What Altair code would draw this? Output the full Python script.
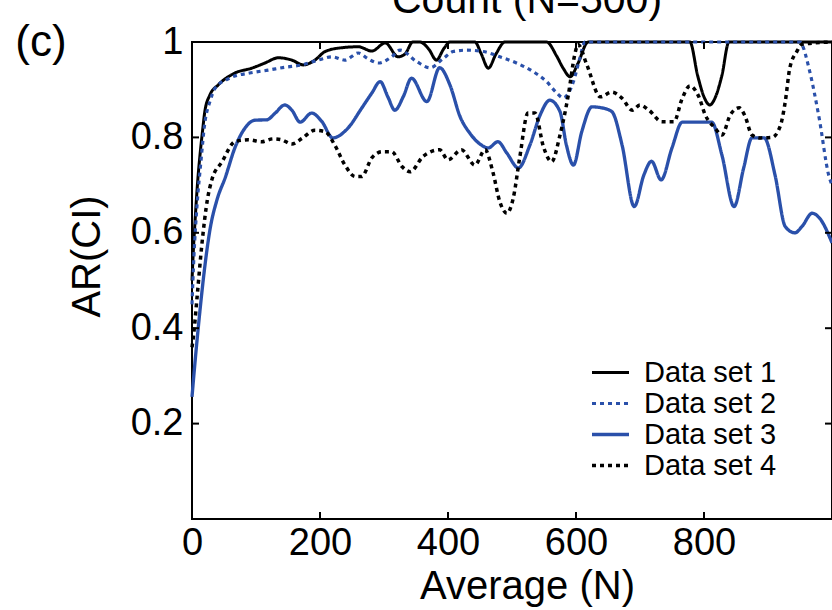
import altair as alt
import pandas as pd

# ---- data ----
series_names = ["Data set 1", "Data set 2", "Data set 3", "Data set 4"]

ds1_x = [0, 2, 5, 9, 13, 17, 20, 28, 41, 67, 93, 114, 135, 156, 174, 192, 208, 234, 260, 281, 302, 322,
         333, 345, 356, 370, 382, 393, 403, 442, 452, 463, 475, 489, 554, 570, 580, 591, 603, 619,
         778, 790, 800, 809, 818, 828, 839, 1000]
ds1_y = [0.50, 0.56, 0.63, 0.71, 0.77, 0.82, 0.854, 0.889, 0.91, 0.935, 0.945, 0.956, 0.967, 0.962, 0.952,
         0.962, 0.98, 0.988, 0.99, 0.981, 0.998, 0.969, 0.975, 1.0, 1.0, 0.985, 0.962, 0.985, 1.0, 1.0,
         0.975, 0.945, 0.975, 1.0, 1.0, 0.97, 0.945, 0.927, 0.955, 1.0, 1.0, 0.93, 0.885, 0.868, 0.885,
         0.93, 1.0, 1.0]

ds2_x = [0, 3, 8, 14, 20, 28, 36, 60, 90, 119, 145, 172, 197, 219, 239, 260, 275, 291, 312, 325, 351,
         372, 393, 408, 429, 455, 481, 507, 533, 554, 570, 580, 596, 606, 614, 950, 953, 964, 980, 995, 1000]
ds2_y = [0.45, 0.55, 0.66, 0.75, 0.83, 0.875, 0.903, 0.925, 0.935, 0.941, 0.947, 0.952, 0.962, 0.969,
         0.962, 0.977, 0.965, 0.956, 0.969, 0.983, 0.959, 0.946, 0.966, 0.98, 0.983, 0.98, 0.969, 0.956,
         0.938, 0.917, 0.893, 0.883, 0.917, 0.966, 1.0, 1.0, 0.995, 0.945, 0.84, 0.72, 0.70]

ds3_x = [0, 5, 12, 20, 28, 39, 52, 67, 83, 98, 117, 130, 145, 156, 169, 187, 203, 220, 244, 265, 281,
         294, 306, 317, 330, 343, 367, 387, 403, 419, 434, 450, 463, 478, 492, 510, 528, 544, 559, 575,
         585, 596, 609, 625, 640, 656, 672, 691, 706, 718, 733, 750, 766, 812, 828, 847, 862, 875, 894,
         911, 927, 942, 953, 969, 981, 1000]
ds3_y = [0.256, 0.333, 0.431, 0.529, 0.606, 0.669, 0.716, 0.778, 0.82, 0.836, 0.837, 0.851, 0.868, 0.857,
         0.832, 0.851, 0.833, 0.799, 0.82, 0.861, 0.893, 0.917, 0.885, 0.857, 0.885, 0.924, 0.875, 0.946,
         0.91, 0.843, 0.809, 0.786, 0.778, 0.791, 0.767, 0.736, 0.784, 0.847, 0.878, 0.854, 0.784, 0.742,
         0.812, 0.864, 0.862, 0.854, 0.784, 0.655, 0.721, 0.75, 0.711, 0.778, 0.832, 0.832, 0.763, 0.655,
         0.736, 0.799, 0.799, 0.721, 0.613, 0.60, 0.613, 0.641, 0.63, 0.579]

ds4_x = [0, 2, 8, 15, 24, 31, 47, 67, 88, 109, 127, 140, 156, 172, 192, 208, 223, 239, 255, 265, 281,
         297, 312, 328, 341, 361, 387, 400, 421, 442, 458, 470, 481, 492, 502, 512, 525, 536, 549, 562,
         575, 588, 598, 603, 617, 638, 656, 672, 688, 700, 714, 734, 753, 766, 778, 792, 802, 817, 828,
         841, 855, 864, 875, 888, 906, 919, 927, 934, 945, 953, 1000]
ds4_y = [0.36, 0.38, 0.466, 0.57, 0.669, 0.711, 0.749, 0.791, 0.795, 0.791, 0.797, 0.795, 0.786, 0.798,
         0.815, 0.812, 0.784, 0.742, 0.718, 0.718, 0.757, 0.77, 0.77, 0.739, 0.728, 0.76, 0.774, 0.753,
         0.774, 0.742, 0.774, 0.728, 0.665, 0.641, 0.673, 0.757, 0.851, 0.851, 0.781, 0.749, 0.805, 0.889,
         0.973, 0.995, 0.952, 0.885, 0.895, 0.882, 0.857, 0.868, 0.857, 0.833, 0.833, 0.882, 0.908, 0.885,
         0.847, 0.82, 0.805, 0.847, 0.862, 0.845, 0.805, 0.799, 0.80, 0.823, 0.875, 0.945, 0.98, 0.995, 1.0]

x_tick_values = [0, 200, 400, 600, 800]
x_tick_marks = [0, 200, 400, 600, 800, 1000]
y_tick_values = [0.2, 0.4, 0.6, 0.8, 1.0]
y_tick_marks = [0, 0.2, 0.4, 0.6, 0.8, 1.0]

title_text = "Count (N=500)"
panel_text = "(c)"
x_title = "Average (N)"
y_title = "AR(CI)"

# ---- build table ----
rows = []
for name, xs, ys in zip(series_names, [ds1_x, ds2_x, ds3_x, ds4_x], [ds1_y, ds2_y, ds3_y, ds4_y]):
    for xv, yv in zip(xs, ys):
        rows.append({"series": name, "N": xv, "AR": yv})
df = pd.DataFrame(rows)

W, H = 640, 477
FONT = "Liberation Sans"
BLUE = "#2a50aa"

xscale = alt.Scale(domain=[0, 1000], nice=False, zero=False)
yscale = alt.Scale(domain=[0, 1], nice=False, zero=False)

lines = alt.Chart(df).mark_line(interpolate="monotone", strokeCap="butt").encode(
    x=alt.X("N:Q", scale=xscale,
            axis=alt.Axis(values=x_tick_values, title=x_title, tickSize=0, domain=False, grid=False,
                          labelFlush=False, labelOverlap=False,
                          labelFontSize=38, labelPadding=5, labelFont=FONT, labelColor="black",
                          titleFont=FONT, titleFontSize=40, titleFontWeight="normal", titleColor="black",
                          titleX=335, titleY=79, titleAlign="center", titleBaseline="alphabetic")),
    y=alt.Y("AR:Q", scale=yscale,
            axis=alt.Axis(values=y_tick_values, title=y_title, tickSize=0, domain=False, grid=False,
                          labelFlush=False, labelOverlap=False,
                          format="~g", labelFontSize=38, labelPadding=9, labelFont=FONT,
                          labelColor="black", labelBaseline="middle",
                          titleFont=FONT, titleFontSize=40, titleFontWeight="normal", titleColor="black",
                          titleX=-105, titleY=214, titleAlign="center", titleBaseline="middle")),
    color=alt.Color("series:N", scale=alt.Scale(domain=series_names, range=["black", BLUE, BLUE, "black"]),
                    legend=alt.Legend(title=None, orient="none", legendX=404, legendY=316,
                                      symbolType="M-2,0H2", symbolSize=342, labelFontSize=29,
                                      labelFont=FONT, labelColor="black", labelOffset=19, rowPadding=1,
                                      padding=0)),
    strokeDash=alt.StrokeDash("series:N", scale=alt.Scale(domain=series_names,
                                                          range=[[1, 0], [4, 4], [1, 0], [4, 4]])),
    strokeWidth=alt.StrokeWidth("series:N", scale=alt.Scale(domain=series_names, range=[3, 3.5, 4, 3.5])),
)

xt = pd.DataFrame({"v": x_tick_marks})
yt = pd.DataFrame({"v": y_tick_marks})
tick_style = dict(color="black", strokeWidth=2)
bottom_ticks = alt.Chart(xt).mark_rule(**tick_style).encode(
    x=alt.X("v:Q", scale=xscale), y=alt.value(H), y2=alt.value(H - 7))
top_ticks = alt.Chart(xt).mark_rule(**tick_style).encode(
    x=alt.X("v:Q", scale=xscale), y=alt.value(0), y2=alt.value(7))
left_ticks = alt.Chart(yt).mark_rule(**tick_style).encode(
    y=alt.Y("v:Q", scale=yscale), x=alt.value(0), x2=alt.value(7))
right_ticks = alt.Chart(yt).mark_rule(**tick_style).encode(
    y=alt.Y("v:Q", scale=yscale), x=alt.value(W), x2=alt.value(W - 7))

title_mark = alt.Chart(pd.DataFrame({"t": [title_text]})).mark_text(
    font=FONT, fontSize=41, align="center", baseline="alphabetic", color="black").encode(
    text="t:N", x=alt.value(335), y=alt.value(-29))
panel_mark = alt.Chart(pd.DataFrame({"t": [panel_text]})).mark_text(
    font=FONT, fontSize=44, align="center", baseline="middle", color="black").encode(
    text="t:N", x=alt.value(-151), y=alt.value(1))

chart = alt.layer(lines, bottom_ticks, top_ticks, left_ticks, right_ticks, title_mark, panel_mark).properties(
    width=W, height=H,
    autosize=alt.AutoSizeParams(type="none"),
    padding={"left": 192, "top": 42, "right": 0, "bottom": 91},
    background="white",
).configure_view(stroke="black", strokeWidth=2)

chart.save("out.html", embed_options={"renderer": "svg", "actions": False})
